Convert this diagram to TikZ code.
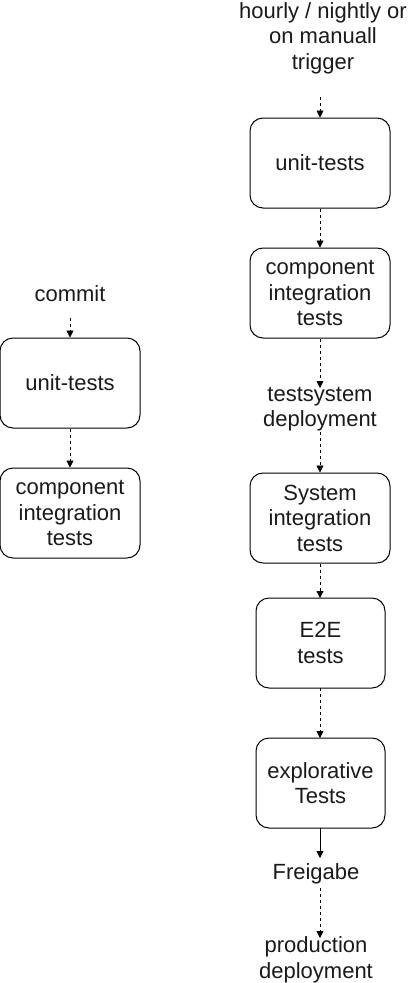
\documentclass[tikz,border=0pt]{standalone}
\usepackage{fontspec}
\setmainfont{Liberation Sans}
\usetikzlibrary{arrows.meta}
\definecolor{txt}{HTML}{1A1A1A}
\begin{document}
\begin{tikzpicture}[x=1pt,y=-1pt,
  box/.style={draw=black,line width=1pt,rounded corners=13pt,minimum width=140pt,minimum height=90pt,align=center,inner sep=0pt,text=txt,font=\fontsize{22}{25.5}\selectfont},
  sbox/.style={box,minimum width=129pt},
  lbl/.style={align=center,inner sep=0pt,text=txt,font=\fontsize{22}{25.5}\selectfont},
  dflow/.style={line width=0.8pt,dash pattern=on 3pt off 3pt,-{Triangle[length=7pt,width=7pt]}},
  sflow/.style={line width=0.8pt,-{Triangle[length=7pt,width=7pt]}}]
\useasboundingbox (0,0) rectangle (411,983);
% left column
\node[lbl] (commit) at (70,294) {commit};
\node[box] (lu) at (70,383) {unit-tests};
\node[box] (lc) at (70,513) {component\\integration\\tests};
\coordinate (lcin) at (70,318);
\draw[dflow] (lcin) -- (lu.north);
\draw[dflow] (lu.south) -- (lc.north);
% right column
\node[lbl] (trig) at (323,38) {hourly / nightly or\\on manuall\\trigger};
\coordinate (trigout) at (320,97);
\node[box] (ru) at (320,163) {unit-tests};
\node[box] (rc) at (320,293) {component\\integration\\tests};
\node[lbl] (tsd) at (320,409) {testsystem\\deployment};
\node[box] (sys) at (320,518) {System\\integration\\tests};
\node[sbox] (e2e) at (320.5,643) {E2E\\tests};
\node[sbox] (exp) at (320.5,783) {explorative\\Tests};
\node[lbl] (frei) at (316,874) {Freigabe};
\node[lbl] (prod) at (316,960) {production\\deployment};
\draw[dflow] (trigout) -- (ru.north);
\draw[dflow] (ru.south) -- (rc.north);
\draw[dflow] (rc.south) -- (320,388);
\draw[dflow] (320,432) -- (sys.north);
\draw[dflow] (sys.south) -- (320,598);
\draw[dflow] (320,688) -- (320,738);
\draw[sflow] (320,828) -- (320,858);
\draw[dflow] (320,888) -- (320,938);
\end{tikzpicture}
\end{document}
